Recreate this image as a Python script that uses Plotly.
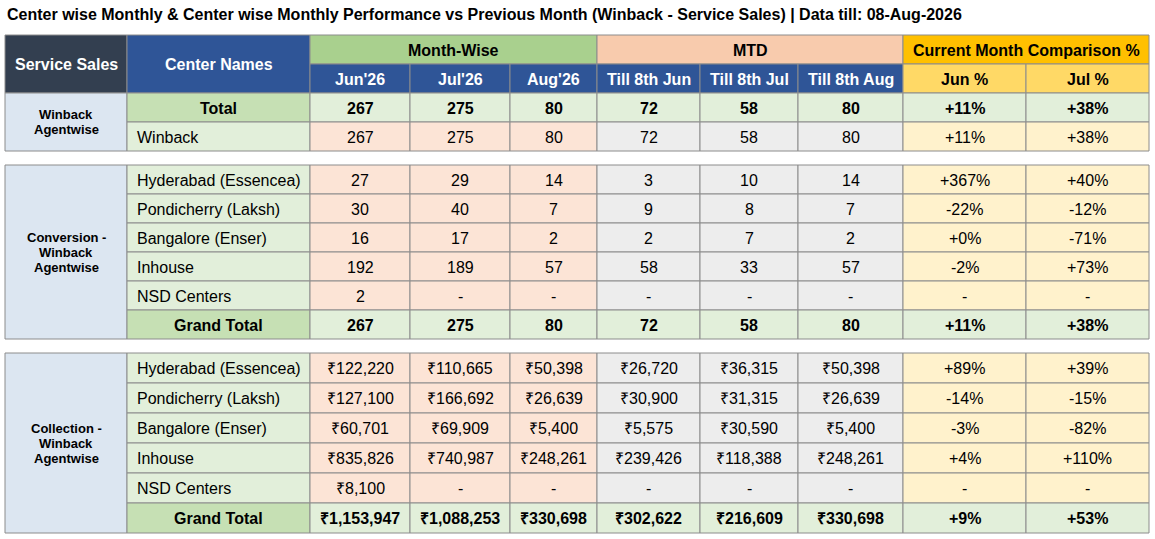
import plotly.graph_objects as go

# ---------------- DATA ----------------
title_text = "Center wise Monthly & Center wise Monthly Performance vs Previous Month (Winback - Service Sales) | Data till: 08-Aug-2026"
months = ["Jun'26", "Jul'26", "Aug'26"]
mtd_labels = ["Till 8th Jun", "Till 8th Jul", "Till 8th Aug"]
pct_labels = ["Jun %", "Jul %"]
centers = ["Hyderabad (Essencea)", "Pondicherry (Laksh)", "Bangalore (Enser)", "Inhouse", "NSD Centers"]
section_labels = [["Winback", "Agentwise"],
                  ["Conversion -", "Winback", "Agentwise"],
                  ["Collection -", "Winback", "Agentwise"]]

winback_total_month = [267, 275, 80]
winback_total_mtd = [72, 58, 80]
winback_total_pct = ["+11%", "+38%"]
winback_month = [267, 275, 80]
winback_mtd = [72, 58, 80]
winback_pct = ["+11%", "+38%"]

conv_month = [[27, 29, 14], [30, 40, 7], [16, 17, 2], [192, 189, 57], [2, None, None]]
conv_mtd = [[3, 10, 14], [9, 8, 7], [2, 7, 2], [58, 33, 57], [None, None, None]]
conv_pct = [["+367%", "+40%"], ["-22%", "-12%"], ["+0%", "-71%"], ["-2%", "+73%"], ["-", "-"]]
conv_total_month = [267, 275, 80]
conv_total_mtd = [72, 58, 80]
conv_total_pct = ["+11%", "+38%"]

coll_month = [[122220, 110665, 50398], [127100, 166692, 26639], [60701, 69909, 5400],
              [835826, 740987, 248261], [8100, None, None]]
coll_mtd = [[26720, 36315, 50398], [30900, 31315, 26639], [5575, 30590, 5400],
            [239426, 118388, 248261], [None, None, None]]
coll_pct = [["+89%", "+39%"], ["-14%", "-15%"], ["-3%", "-82%"], ["+4%", "+110%"], ["-", "-"]]
coll_total_month = [1153947, 1088253, 330698]
coll_total_mtd = [302622, 216609, 330698]
coll_total_pct = ["+9%", "+53%"]

# ---------------- STYLE / LAYOUT ----------------
W, H = 1155, 539
FONT = "Liberation Sans, Arial, sans-serif"
col_edges = [5, 127, 310, 410, 510, 597, 700, 798, 903, 1026, 1149]
BORDER = "#8c8c8c"
C_DARK = "#333f50"
C_BLUE = "#2f5597"
C_MW = "#a9d08e"
C_MTD = "#f8cbad"
C_CMP = "#ffc000"
C_CMP2 = "#ffd966"
C_LEFT = "#dce6f1"
C_NAME = "#e2efda"
C_TOTNAME = "#c6e0b4"
C_TOTROW = "#e2efda"
C_MWD = "#fce4d6"
C_MTDD = "#ededed"
C_CMPD = "#fff2cc"
LABEL_LH = 15

shapes = []
annots = []


def text_at(x, y, text, size=16, bold=False, color="#000000", xanchor="center"):
    t = f"<b>{text}</b>" if bold else text
    annots.append(dict(x=x, y=y, xref="x", yref="y", text=t, showarrow=False,
                       xanchor=xanchor, yanchor="middle",
                       font=dict(family=FONT, size=size, color=color)))


def cell(x0, x1, y0, y1, fill, text=None, size=16, bold=False, color="#000000", align="center", pad=8):
    shapes.append(dict(type="rect", xref="x", yref="y", x0=x0, x1=x1, y0=y0, y1=y1,
                       fillcolor=fill, line=dict(color=BORDER, width=1), layer="below"))
    if text is not None:
        if align == "left":
            text_at(x0 + pad, (y0 + y1) / 2 + 0.5, text, size, bold, color, "left")
        else:
            text_at((x0 + x1) / 2, (y0 + y1) / 2 + 0.5, text, size, bold, color)


def label_cell(x0, x1, y0, y1, lines):
    cell(x0, x1, y0, y1, C_LEFT)
    mid = (y0 + y1) / 2
    n = len(lines)
    for i, ln in enumerate(lines):
        text_at((x0 + x1) / 2, mid + (i - (n - 1) / 2) * LABEL_LH, ln, size=13, bold=True)


def fmt_num(v):
    return "-" if v is None else f"{v:,}"


def fmt_rs(v):
    return "-" if v is None else f"₹{v:,}"


def data_row(y0, y1, name, mvals, tvals, pvals, fmt, total=False):
    ce = col_edges
    if total:
        cell(ce[1], ce[2], y0, y1, C_TOTNAME, name, bold=True)
    else:
        cell(ce[1], ce[2], y0, y1, C_NAME, name, align="left")
    for i, v in enumerate(mvals):
        cell(ce[2 + i], ce[3 + i], y0, y1, C_TOTROW if total else C_MWD, fmt(v), bold=total)
    for i, v in enumerate(tvals):
        cell(ce[5 + i], ce[6 + i], y0, y1, C_TOTROW if total else C_MTDD, fmt(v), bold=total)
    for i, v in enumerate(pvals):
        cell(ce[8 + i], ce[9 + i], y0, y1, C_TOTROW if total else C_CMPD, v, bold=total)


ce = col_edges
# Header
hy = [35, 64, 93]
cell(ce[0], ce[1], hy[0], hy[2], C_DARK, "Service Sales", bold=True, color="#ffffff")
cell(ce[1], ce[2], hy[0], hy[2], C_BLUE, "Center Names", bold=True, color="#ffffff")
cell(ce[2], ce[5], hy[0], hy[1], C_MW, "Month-Wise", bold=True)
cell(ce[5], ce[8], hy[0], hy[1], C_MTD, "MTD", bold=True)
cell(ce[8], ce[10], hy[0], hy[1], C_CMP, "Current Month Comparison %", bold=True)
for i, m in enumerate(months):
    cell(ce[2 + i], ce[3 + i], hy[1], hy[2], C_BLUE, m, bold=True, color="#ffffff")
for i, m in enumerate(mtd_labels):
    cell(ce[5 + i], ce[6 + i], hy[1], hy[2], C_BLUE, m, bold=True, color="#ffffff")
for i, m in enumerate(pct_labels):
    cell(ce[8 + i], ce[9 + i], hy[1], hy[2], C_CMP2, m, bold=True)

# Section 1: Winback
r1 = [93, 122, 151]
label_cell(ce[0], ce[1], r1[0], r1[2], section_labels[0])
data_row(r1[0], r1[1], "Total", winback_total_month, winback_total_mtd, winback_total_pct, fmt_num, total=True)
data_row(r1[1], r1[2], "Winback", winback_month, winback_mtd, winback_pct, fmt_num)

# Section 2: Conversion
top2, rh2 = 165, 29
n2 = len(centers) + 1
label_cell(ce[0], ce[1], top2, top2 + rh2 * n2, section_labels[1])
for k, c in enumerate(centers):
    y0 = top2 + rh2 * k
    data_row(y0, y0 + rh2, c, conv_month[k], conv_mtd[k], conv_pct[k], fmt_num)
y0 = top2 + rh2 * len(centers)
data_row(y0, y0 + rh2, "Grand Total", conv_total_month, conv_total_mtd, conv_total_pct, fmt_num, total=True)

# Section 3: Collection
top3, rh3 = 353, 30
n3 = len(centers) + 1
label_cell(ce[0], ce[1], top3, top3 + rh3 * n3, section_labels[2])
for k, c in enumerate(centers):
    y0 = top3 + rh3 * k
    data_row(y0, y0 + rh3, c, coll_month[k], coll_mtd[k], coll_pct[k], fmt_rs)
y0 = top3 + rh3 * len(centers)
data_row(y0, y0 + rh3, "Grand Total", coll_total_month, coll_total_mtd, coll_total_pct, fmt_rs, total=True)

# Title
text_at(5, 14, title_text, size=16, bold=True, xanchor="left")

fig = go.Figure()
fig.add_trace(go.Scatter(x=[0, W], y=[0, H], mode="markers", marker=dict(opacity=0), hoverinfo="skip",
                         showlegend=False))
fig.update_layout(
    width=W, height=H, margin=dict(l=0, r=0, t=0, b=0),
    paper_bgcolor="#ffffff", plot_bgcolor="#ffffff",
    xaxis=dict(range=[0, W], visible=False, fixedrange=True),
    yaxis=dict(range=[H, 0], visible=False, fixedrange=True),
    shapes=shapes, annotations=annots, showlegend=False,
)
fig.write_html("out.html", config={"displayModeBar": False},
               post_script="document.body.style.margin='0';document.body.style.overflow='hidden';")
